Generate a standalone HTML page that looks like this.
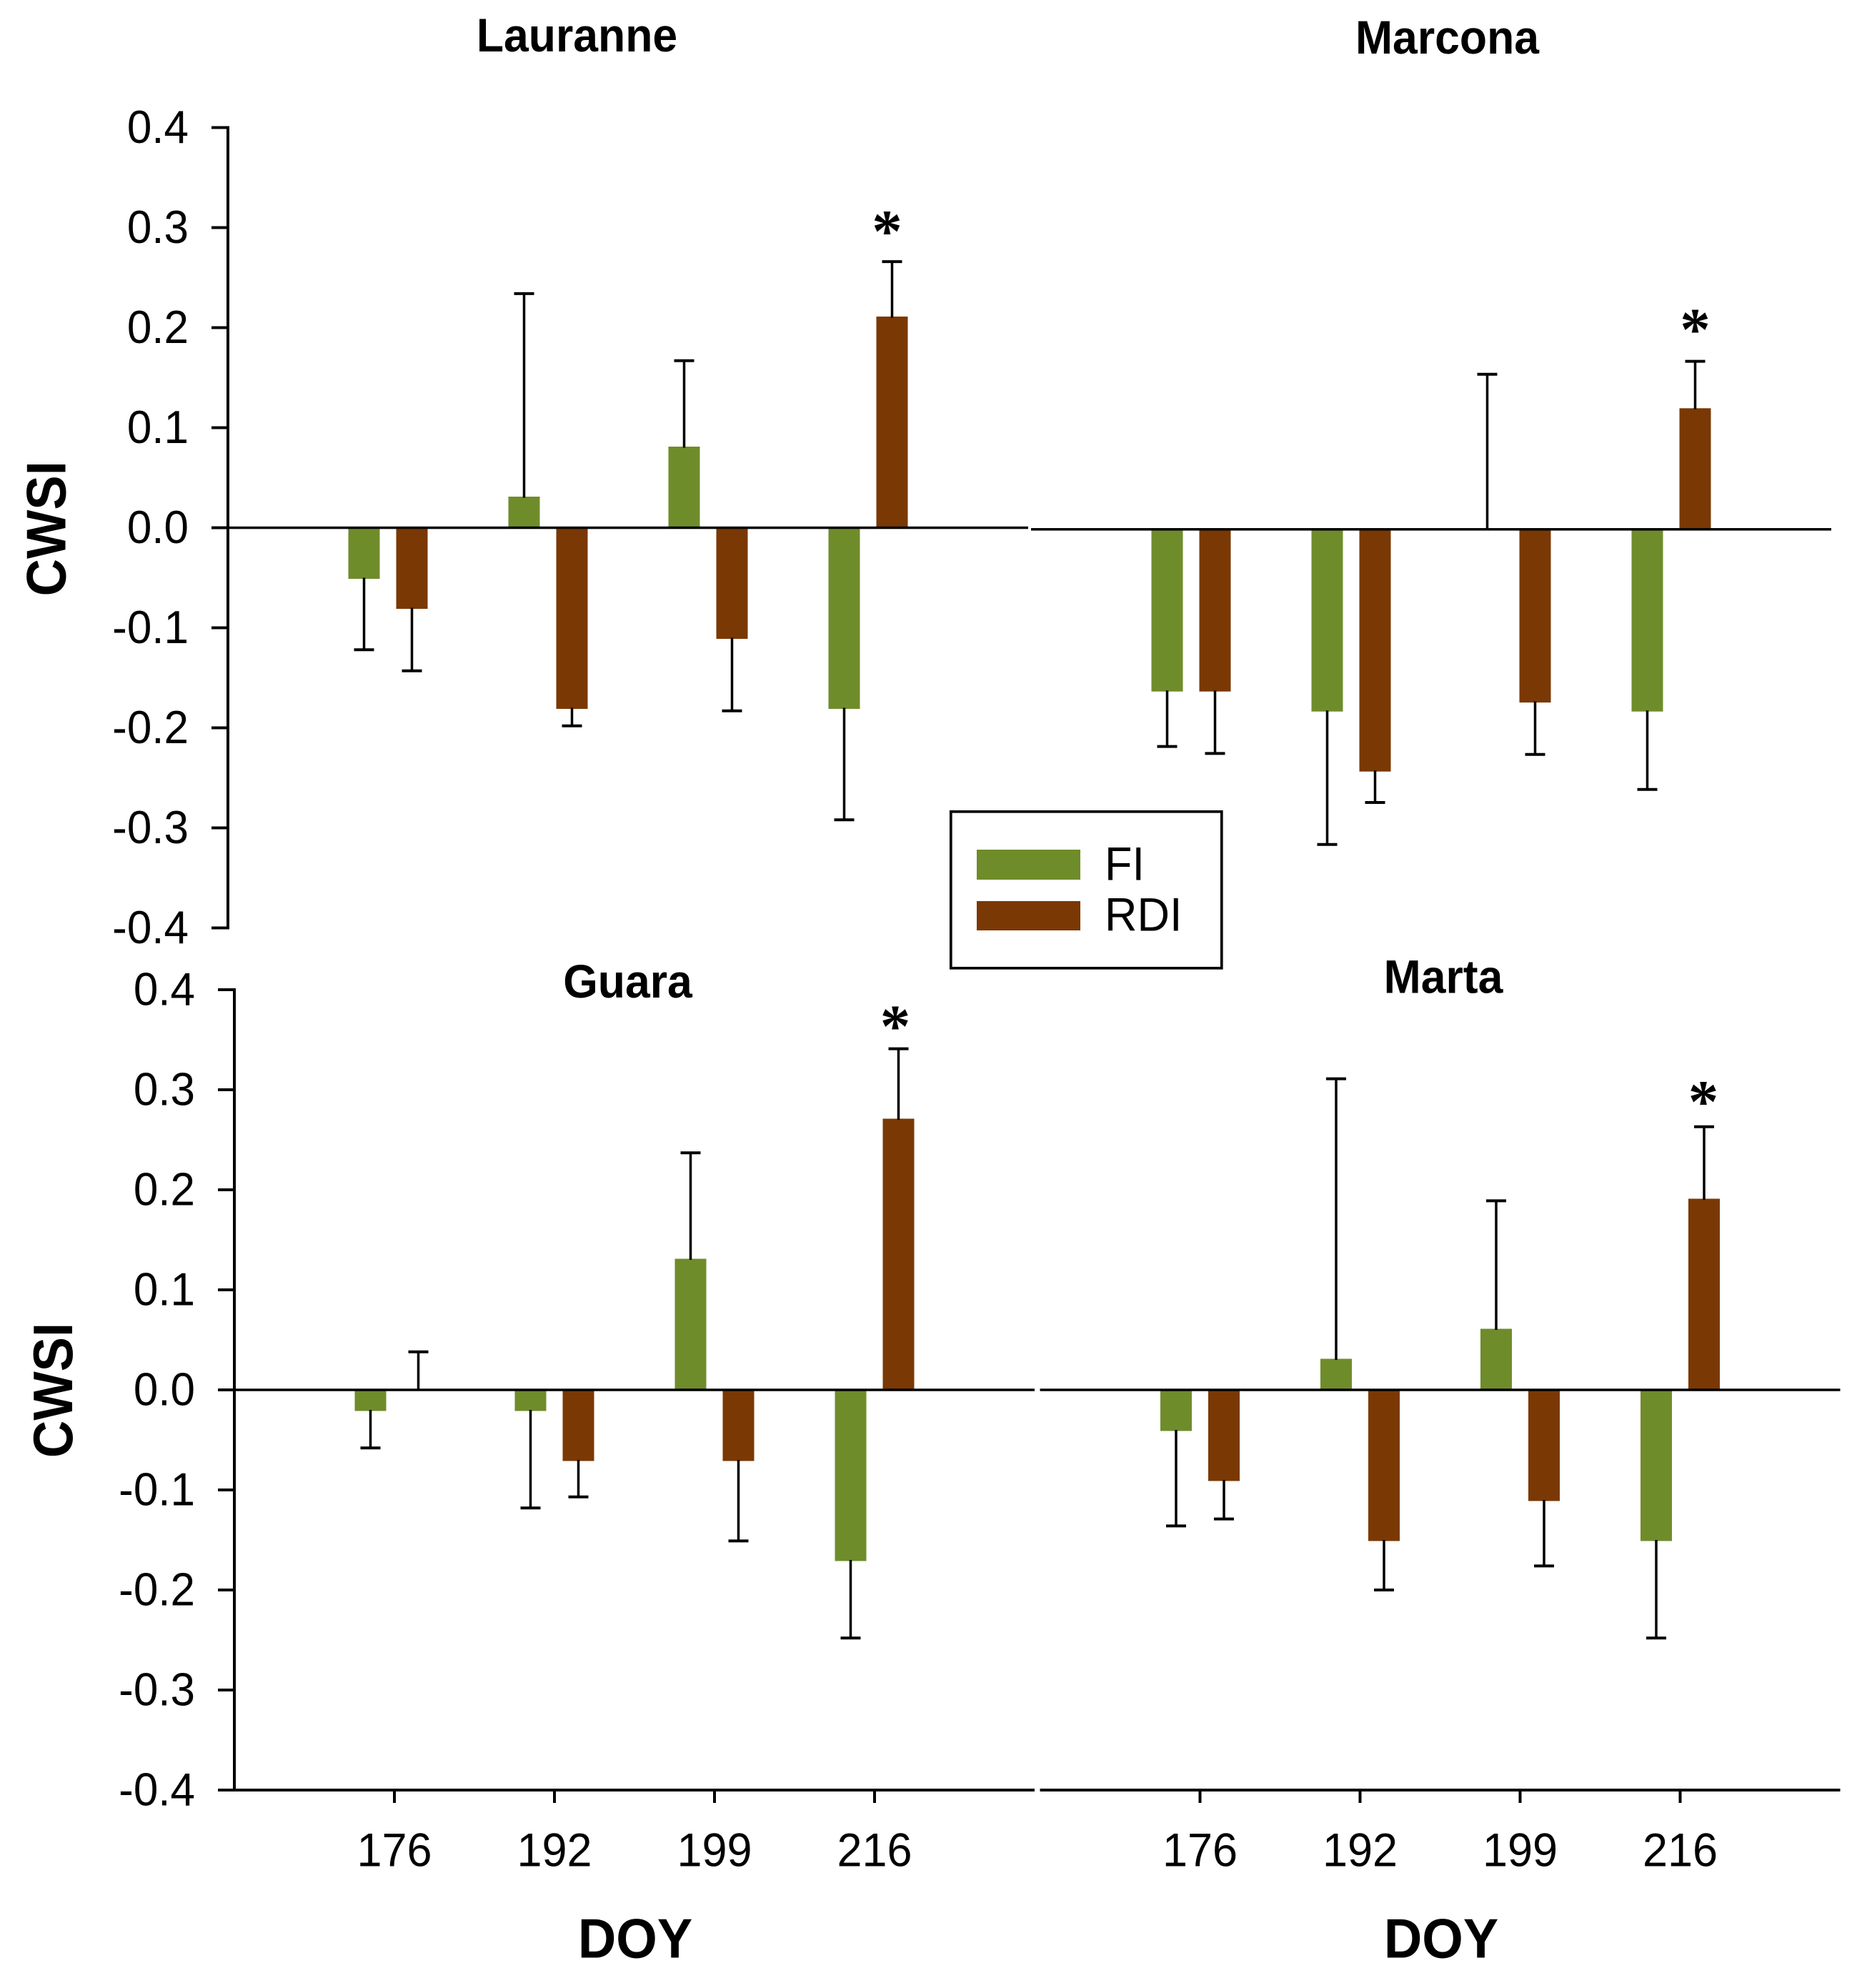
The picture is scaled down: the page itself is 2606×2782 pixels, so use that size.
<!DOCTYPE html>
<html lang="en">
<head>
<meta charset="utf-8">
<title>CWSI by DOY for four almond cultivars</title>
<style>
html,body{margin:0;padding:0;background:#fff;}
svg{display:block;}
text{font-family:"Liberation Sans",Arial,sans-serif;fill:#000;}
</style>
</head>
<body>
<svg id="chart" xmlns="http://www.w3.org/2000/svg" width="2606" height="2782" viewBox="0 0 2606 2782"></svg>
<script>
// ---- chart data ----
const categories = ['176', '192', '199', '216'];
const yTicks = [0.4, 0.3, 0.2, 0.1, 0.0, -0.1, -0.2, -0.3, -0.4];

const lauranneFI = [-0.05, 0.03, 0.08, -0.18];
const lauranneRDI = [-0.08, -0.18, -0.11, 0.21];
const lauranneFIErr = [-0.122, 0.234, 0.167, -0.292];
const lauranneRDIErr = [-0.143, -0.198, -0.183, 0.266];

const marconaFI = [-0.161, -0.181, 0, -0.181];
const marconaRDI = [-0.161, -0.241, -0.172, 0.12];
const marconaFIErr = [-0.217, -0.315, 0.155, -0.26];
const marconaRDIErr = [-0.224, -0.273, -0.225, 0.168];

const guaraFI = [-0.02, -0.02, 0.13, -0.17];
const guaraRDI = [0, -0.07, -0.07, 0.27];
const guaraFIErr = [-0.058, -0.118, 0.237, -0.248];
const guaraRDIErr = [0.038, -0.107, -0.151, 0.341];

const martaFI = [-0.04, 0.03, 0.06, -0.15];
const martaRDI = [-0.09, -0.15, -0.11, 0.19];
const martaFIErr = [-0.136, 0.311, 0.189, -0.248];
const martaRDIErr = [-0.129, -0.2, -0.176, 0.263];

const significantIndex = 3; // DOY 216 carries the asterisk in every panel

// ---- layout ----
const NS = 'http://www.w3.org/2000/svg';
const svg = document.getElementById('chart');
const UNIT = 1400;        // px per CWSI unit
const PITCH = 224;        // px between DOY groups
const BAR_W = 44;
const BAR_PAD = 1.5;      // bars carry a thin same-colour outline at the far end
const CAP_W = 28;
const FI_COLOR = '#6f8c2b';
const RDI_COLOR = '#7a3804';
const STRETCH = 1.05;     // the source image is slightly taller than wide

const panels = [
  { id:'lauranne', fi:lauranneFI, rdi:lauranneRDI, fiErr:lauranneFIErr, rdiErr:lauranneRDIErr,
    axisX:319, zeroY:738.5, showY:true, showX:false, starDx:-7, starDy:-54 },
  { id:'marcona', fi:marconaFI, rdi:marconaRDI, fiErr:marconaFIErr, rdiErr:marconaRDIErr,
    axisX:1443, zeroY:740.8, showY:false, showX:false, starDx:0, starDy:-56 },
  { id:'guara', fi:guaraFI, rdi:guaraRDI, fiErr:guaraFIErr, rdiErr:guaraRDIErr,
    axisX:328, zeroY:1945, showY:true, showX:true, starDx:-4.5, starDy:-43 },
  { id:'marta', fi:martaFI, rdi:martaRDI, fiErr:martaFIErr, rdiErr:martaRDIErr,
    axisX:1455.5, zeroY:1945, showY:false, showX:true, starDx:-1, starDy:-47 }
];

function yScale(p, v) { return p.zeroY - v * UNIT; }
function xCenter(p, i) { return p.axisX + PITCH * (i + 1); }
function xFI(p, i) { return xCenter(p, i) - 33.5; }
function xRDI(p, i) { return xCenter(p, i) + 33.5; }

function make(tag, attrs, parent) {
  const el = document.createElementNS(NS, tag);
  for (const k in attrs) el.setAttribute(k, attrs[k]);
  (parent || svg).appendChild(el);
  return el;
}
function line(x1, y1, x2, y2, w, parent) {
  return make('line', { x1:x1, y1:y1, x2:x2, y2:y2, stroke:'#000', 'stroke-width':w }, parent);
}
function label(str, x, y, size, opts, parent) {
  const o = opts || {};
  const sy = o.stretch || STRETCH;
  const rot = o.rotate ? ' rotate(' + o.rotate + ')' : '';
  const el = make('text', {
    transform: 'translate(' + x + ',' + y + ')' + rot + ' scale(1,' + sy + ')',
    'font-size': size,
    'font-weight': o.bold ? 'bold' : 'normal',
    'text-anchor': o.anchor || 'middle'
  }, parent);
  if (o.family) el.style.fontFamily = o.family;
  el.textContent = str;
  return el;
}

function drawBar(p, i, value, err, cx, color, series, g) {
  const y0 = yScale(p, 0);
  const y1 = yScale(p, value);
  const pad = value === 0 ? 0 : BAR_PAD;
  const bar = make('rect', {
    x: cx - BAR_W / 2,
    y: value > 0 ? y1 - pad : y0,
    width: BAR_W,
    height: Math.abs(y1 - y0) + pad,
    fill: color
  }, g);
  
  
  const yE = yScale(p, err);
  const eg = make('g', {}, g);
  
  
  line(cx, y1, cx, yE, 3.5, eg);
  line(cx - CAP_W / 2, yE, cx + CAP_W / 2, yE, 4, eg);
}

function drawPanel(p) {
  const g = make('g', {});
  
  

  categories.forEach(function (c, i) {
    drawBar(p, i, p.fi[i], p.fiErr[i], xFI(p, i), FI_COLOR, 'fi', g);
    drawBar(p, i, p.rdi[i], p.rdiErr[i], xRDI(p, i), RDI_COLOR, 'rdi', g);
  });

  const x0 = p.axisX;
  const x1 = p.axisX + PITCH * 5;
  const zero = line(x0, yScale(p, 0), x1, yScale(p, 0), 3.5, g);
  
  

  if (p.showY) {
    const ax = line(x0, yScale(p, 0.4) - 2, x0, yScale(p, -0.4) + 2, 4, g);
    
    
    yTicks.forEach(function (t) {
      const y = yScale(p, t);
      const tick = line(x0 - 23, y, x0, y, 4, g);
      
      
      const txt = label(t.toFixed(1), x0 - 55, y + 21.5, 62, { anchor:'end' }, g);
      
      
    });
  }

  if (p.showX) {
    const yB = yScale(p, -0.4);
    const ax = line(p.showY ? x0 - 23 : x0, yB, x1, yB, 4, g);
    
    
    categories.forEach(function (c, i) {
      const x = xCenter(p, i);
      const tick = line(x, yB, x, yB + 18, 4, g);
      
      
      const txt = label(c, x, 2611.7, 63, {}, g);
      
      
    });
  }

  const s = significantIndex;
  const star = label('*', xRDI(p, s) + p.starDx, yScale(p, p.rdiErr[s]) + p.starDy + 40, 85,
    { family:'"Liberation Serif",serif', stretch:1, bold:true }, g);
  
  
}

panels.forEach(drawPanel);

// ---- titles ----
const titleLauranne = label('Lauranne', 807.5, 72, 62.5, { bold:true });


const titleMarcona = label('Marcona', 2025.5, 75, 62.5, { bold:true });


const titleGuara = label('Guara', 878.5, 1396, 62.5, { bold:true });


const titleMarta = label('Marta', 2020, 1389.5, 62.5, { bold:true });



// ---- axis titles ----
const yTitleTop = label('CWSI', 91.3, 739.7, 72.5, { bold:true, rotate:-90, stretch:1.07 });


const yTitleBottom = label('CWSI', 101, 1945.5, 72.5, { bold:true, rotate:-90, stretch:1.07 });


const xTitleLeft = label('DOY', 889, 2739.5, 74, { bold:true });


const xTitleRight = label('DOY', 2017, 2739.5, 74, { bold:true });



// ---- legend ----
const legend = make('g', {});


const legendBox = make('rect', { x:1330.8, y:1135.8, width:379, height:219, fill:'#fff', stroke:'#000', 'stroke-width':3.7 }, legend);


const swatchFI = make('rect', { x:1367, y:1189, width:145, height:42, fill:FI_COLOR }, legend);


const swatchRDI = make('rect', { x:1367, y:1261, width:145, height:41, fill:RDI_COLOR }, legend);


const legendFI = label('FI', 1546, 1231.7, 63, { anchor:'start' }, legend);


const legendRDI = label('RDI', 1546, 1302.7, 63, { anchor:'start' }, legend);


</script>
</body>
</html>
